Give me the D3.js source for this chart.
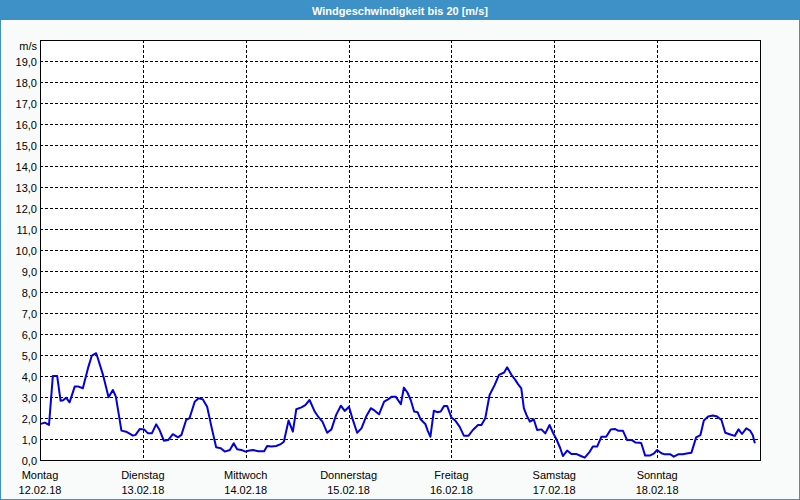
<!DOCTYPE html>
<html>
<head>
<meta charset="utf-8">
<script src="https://cdn.jsdelivr.net/npm/d3@7"></script>
<style>
  html, body { margin: 0; padding: 0; background: #f8fbfa; }
  svg { display: block; }
  text { font-family: "Liberation Sans", Arial, sans-serif; font-size: 11px; fill: #000; }
</style>
</head>
<body>
<svg id="chart" width="800" height="500"></svg>
<script>
const title = "Windgeschwindigkeit bis 20 [m/s]";
const unitLabel = "m/s";
const dayNames = ["Montag", "Dienstag", "Mittwoch", "Donnerstag", "Freitag", "Samstag", "Sonntag"];
const dayDates = ["12.02.18", "13.02.18", "14.02.18", "15.02.18", "16.02.18", "17.02.18", "18.02.18"];
const yTicks = [0,1,2,3,4,5,6,7,8,9,10,11,12,13,14,15,16,17,18,19];
// hours since Monday 00:00
const hours = [0.2,1.1,2.1,3.0,4.0,4.8,5.4,6.1,6.9,8.1,9.0,10.0,11.2,12.1,13.1,13.5,14.7,16.0,17.0,17.7,19.0,20.1,21.7,22.3,23.3,24.3,25.2,26.1,27.1,27.9,
  28.9,29.9,31.0,32.2,33.0,34.1,34.9,36.1,37.0,38.0,39.0,40.0,41.1,42.2,43.1,44.3,45.2,46.0,47.0,47.9,48.9,49.7,50.9,52.3,53.0,54.0,55.1,56.2,
  56.9,58.0,59.0,59.8,61.0,61.9,62.9,64.1,65.0,65.9,67.0,68.0,69.1,70.2,71.1,72.1,73.0,74.0,75.0,76.1,77.2,78.1,79.1,80.3,81.2,82.1,83.0,
  84.2,84.9,85.7,86.5,87.3,88.1,88.8,89.9,90.5,91.1,91.9,92.7,93.5,94.3,95.0,96.0,96.9,97.9,98.9,100.0,101.0,102.2,103.0,103.9,104.9,106.1,
  107.1,108.3,109.0,110.0,110.9,111.5,112.3,112.9,113.5,114.3,115.2,116.0,117.0,117.9,118.9,119.7,120.5,121.4,122.0,123.0,124.0,125.1,126.2,
  127.1,128.3,129.0,130.0,131.0,132.1,133.2,134.1,134.9,136.0,137.0,138.1,138.9,139.9,140.3,141.2,142.3,143.3,144.0,145.0,145.8,147.1,147.9,
  148.9,150.0,151.2,152.0,153.1,154.1,154.9,155.9,157.0,158.0,159.0,159.9,160.9,162.1,163.0,163.8,164.8,165.7,166.3,166.8];
const speeds = [1.72,1.78,1.67,4.01,4.01,2.83,2.85,2.97,2.75,3.5,3.5,3.42,4.38,4.98,5.09,4.85,4.06,2.99,3.34,3.02,1.40,1.35,1.16,1.2,1.48,1.46,1.27,1.27,1.70,1.43,
  0.92,0.95,1.23,1.08,1.2,1.91,2.0,2.78,2.94,2.89,2.54,1.59,0.61,0.56,0.40,0.48,0.80,0.51,0.48,0.40,0.45,0.48,0.42,0.42,0.67,0.64,0.67,0.76,
  0.87,1.88,1.35,2.42,2.51,2.62,2.86,2.31,2.04,1.83,1.30,1.46,2.15,2.59,2.34,2.54,1.91,1.30,1.51,2.07,2.47,2.35,2.18,2.78,2.89,3.02,3.02,
  2.66,3.45,3.23,2.86,2.31,2.28,1.94,1.72,1.38,1.11,2.35,2.28,2.31,2.58,2.58,2.02,1.88,1.59,1.16,1.16,1.43,1.67,1.67,1.99,3.10,3.58,
  4.06,4.17,4.42,4.06,3.82,3.63,3.42,2.47,2.15,1.83,1.94,1.43,1.46,1.27,1.67,1.30,0.99,0.56,0.19,0.45,0.29,0.29,0.19,
  0.11,0.40,0.64,0.64,1.11,1.11,1.46,1.48,1.40,1.40,0.95,0.95,0.84,0.82,0.80,0.21,0.21,0.32,0.48,0.32,0.27,0.27,0.16,
  0.27,0.27,0.32,0.35,1.08,1.19,1.88,2.07,2.12,2.07,1.91,1.30,1.23,1.15,1.46,1.24,1.51,1.40,1.19,0.80];

const svg = d3.select("#chart");
const W = 800, H = 500;
const plotLeft = 40, plotRight = 760, plotTop = 40.5, plotBottom = 460;

// title bar and window border
svg.append("rect").attr("x", 0).attr("y", 0).attr("width", W).attr("height", 20).attr("fill", "#3d91c6");
svg.append("rect").attr("x", 0.5).attr("y", 0.5).attr("width", W - 1).attr("height", H - 1)
  .attr("fill", "none").attr("stroke", "#3d91c6").attr("stroke-width", 1);
svg.append("text").attr("x", W / 2).attr("y", 14.5).attr("text-anchor", "middle")
  .style("fill", "#fff").style("font-weight", "bold").text(title);

const x = d3.scaleLinear().domain([0, 168]).range([plotLeft, plotRight]);
const y = d3.scaleLinear().domain([0, 20]).range([plotBottom, plotTop]);

// plot background
svg.append("rect").attr("x", plotLeft).attr("y", 40).attr("width", plotRight - plotLeft).attr("height", plotBottom - 40).attr("fill", "#ffffff");

// horizontal grid
svg.append("g").selectAll("line").data(yTicks.filter(d => d > 0)).join("line")
  .attr("x1", plotLeft).attr("x2", plotRight)
  .attr("y1", d => Math.round(y(d)) + 0.5).attr("y2", d => Math.round(y(d)) + 0.5)
  .attr("stroke", "#000").attr("stroke-dasharray", "3,2").attr("shape-rendering", "crispEdges");

// vertical grid
const dayIdx = d3.range(dayNames.length);
svg.append("g").selectAll("line").data(dayIdx.filter(i => i > 0)).join("line")
  .attr("x1", i => Math.round(x(i * 24)) + 0.5).attr("x2", i => Math.round(x(i * 24)) + 0.5)
  .attr("y1", 40).attr("y2", plotBottom)
  .attr("stroke", "#000").attr("stroke-dasharray", "3,2").attr("shape-rendering", "crispEdges");

// frame
svg.append("rect").attr("x", plotLeft + 0.5).attr("y", 40.5).attr("width", plotRight - plotLeft).attr("height", plotBottom - 40)
  .attr("fill", "none").attr("stroke", "#000").attr("stroke-width", 1).attr("shape-rendering", "crispEdges");

// y labels
svg.append("g").selectAll("text").data(yTicks).join("text")
  .attr("x", 37).attr("y", d => Math.round(y(d)) + 4.5).attr("text-anchor", "end")
  .text(d => d3.format(".1f")(d).replace(".", ","));
svg.append("text").attr("x", 37).attr("y", 50).attr("text-anchor", "end").text(unitLabel);

// x labels
const xl = svg.append("g");
xl.selectAll("text.day").data(dayIdx).join("text").attr("class", "day")
  .attr("x", i => x(i * 24)).attr("y", 479).attr("text-anchor", "middle").text(i => dayNames[i]);
xl.selectAll("text.date").data(dayIdx).join("text").attr("class", "date")
  .attr("x", i => x(i * 24)).attr("y", 494).attr("text-anchor", "middle").text(i => dayDates[i]);

// line
const pts = hours.map((h, i) => [h, speeds[i]]);
svg.append("path").datum(pts)
  .attr("fill", "none").attr("stroke", "#0000e0").attr("stroke-width", 2).attr("stroke-linejoin", "round")
  .attr("d", d3.line().x(d => x(d[0])).y(d => y(d[1])));
</script>
</body>
</html>
